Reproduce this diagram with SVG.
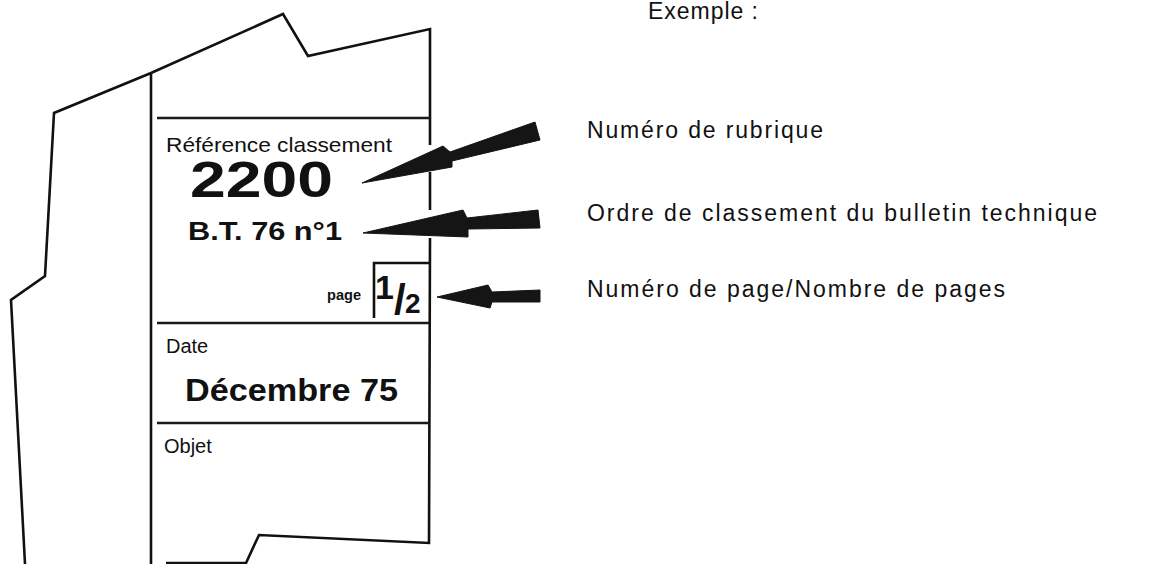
<svg xmlns="http://www.w3.org/2000/svg" width="1151" height="564" viewBox="0 0 1151 564">
<style>
.ln{fill:none;stroke:#111;stroke-width:2.6;stroke-linejoin:miter;stroke-linecap:butt}
.hl{fill:none;stroke:#1a1a1a;stroke-width:2.4}
.arr{fill:#151515;stroke:#151515;stroke-width:1;stroke-linejoin:round}
.t{font-family:"Liberation Sans",Arial,sans-serif;fill:#111}
.b{font-weight:bold}
.lab{font-family:"Liberation Sans",Arial,sans-serif;fill:#111;font-size:23px}
</style>
<rect width="1151" height="564" fill="#fff"/>
<g id="sheets">
<path class="ln" d="M25,564 L11,300 L45,276 L54,113 L151,73 L283,14 L308,56 L430,29 L430,145"/>
<path class="ln" d="M430,172 L430,210"/>
<path class="ln" d="M430,238 L429,543 L259,535 L246,563 L166,563"/>
<path class="ln" d="M151,73 L151,564"/>
</g>
<g id="field-reference">
<line class="hl" x1="157" y1="118" x2="430" y2="118"/>
<text class="t" x="166" y="152" font-size="21" textLength="226" lengthAdjust="spacingAndGlyphs">Référence classement</text>
<text class="t b" x="190" y="197" font-size="50" textLength="143" lengthAdjust="spacingAndGlyphs">2200</text>
<text class="t b" x="188" y="240" font-size="26" textLength="154" lengthAdjust="spacingAndGlyphs">B.T. 76 n°1</text>
</g>
<g id="field-page">
<path class="ln" d="M374,318 L374,263 L430,263"/>
<text class="t b" x="327" y="300" font-size="15" textLength="34" lengthAdjust="spacingAndGlyphs">page</text>
<text class="t b" x="375" y="299" font-size="34">1<tspan x="394" y="314" font-size="42">/</tspan><tspan x="405" y="313" font-size="28">2</tspan></text>
</g>
<g id="field-date">
<line class="hl" x1="157" y1="323" x2="429" y2="323"/>
<text class="t" x="166" y="353" font-size="20">Date</text>
<text class="t b" x="185" y="401" font-size="32" textLength="213" lengthAdjust="spacingAndGlyphs">Décembre 75</text>
</g>
<g id="field-objet">
<line class="hl" x1="157" y1="423" x2="429" y2="423"/>
<text class="t" x="164" y="453" font-size="20">Objet</text>
</g>
<g id="labels">
<text class="lab" x="648" y="19" textLength="110">Exemple :</text>
<text class="lab" x="587" y="138" textLength="236">Numéro de rubrique</text>
<text class="lab" x="587" y="221" textLength="510">Ordre de classement du bulletin technique</text>
<text class="lab" x="587" y="297" textLength="418">Numéro de page/Nombre de pages</text>
</g>
<g id="connectors">
<polygon class="arr" points="362,183 443,146 450,152 535,122 540,140 452,161 452,167"/>
<polygon class="arr" points="363,233 463,210 467,218 538,210 540,228 468,229 468,237"/>
<polygon class="arr" points="437,297 488,285 492,292 540,290 540,302 492,302 490,308"/>
</g>
</svg>
